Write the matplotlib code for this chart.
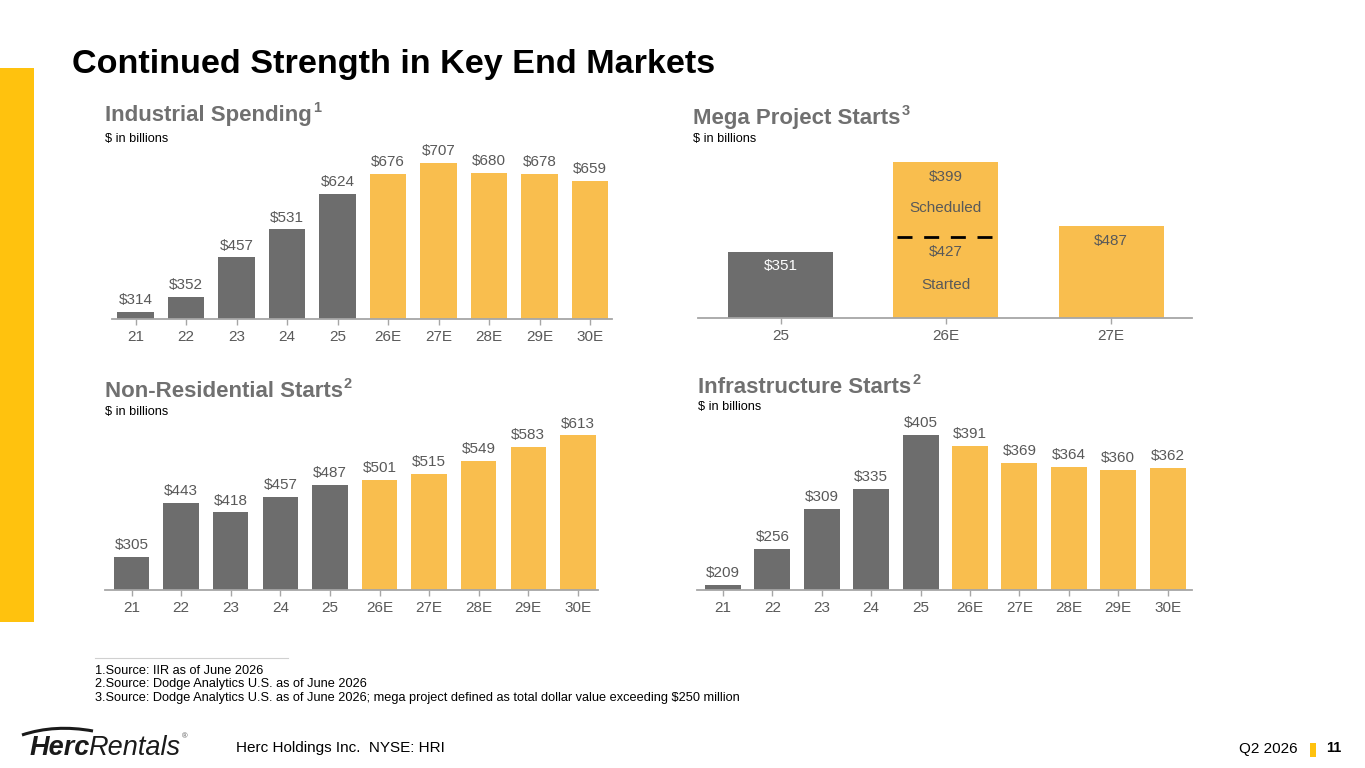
import matplotlib.pyplot as plt
from matplotlib.lines import Line2D
from matplotlib.path import Path
from matplotlib.patches import PathPatch, Rectangle

plt.rcParams['font.family'] = ['Liberation Sans', 'DejaVu Sans']

# 데이터
years = ['21', '22', '23', '24', '25', '26E', '27E', '28E', '29E', '30E']
industrial = [314, 352, 457, 531, 624, 676, 707, 680, 678, 659]
non_res = [305, 443, 418, 457, 487, 501, 515, 549, 583, 613]
infra = [209, 256, 309, 335, 405, 391, 369, 364, 360, 362]
n_actual = 5  # 21~25 는 실적, 나머지는 전망

mega_years = ['25', '26E', '27E']
mega_started = [351, 427, 487]
mega_scheduled = [0, 399, 0]

GRAY = '#6D6D6D'
YELLOW = '#F9BE4E'
TXT = '#595959'
TITLE_GRAY = '#707070'

W, H = 1365, 768
fig = plt.figure(figsize=(W / 100, H / 100), dpi=100)
renderer = fig.canvas.get_renderer()


def px_axes(x0, x1, y_top, y_base):
    return fig.add_axes([x0 / W, 1 - y_base / H, (x1 - x0) / W, (y_base - y_top) / H])


def style_axis(ax, labels):
    for s in ['top', 'right', 'left']:
        ax.spines[s].set_visible(False)
    ax.spines['bottom'].set_color('#A6A6A6')
    ax.spines['bottom'].set_linewidth(1.3)
    ax.set_yticks([])
    ax.set_xticks(range(len(labels)))
    ax.set_xticklabels(labels, fontsize=11, color=TXT)
    ax.tick_params(axis='x', length=4, width=1, color='#A6A6A6', pad=4)
    ax.patch.set_alpha(0)


def value_labels(ax, values):
    for i, v in enumerate(values):
        ax.annotate('$%d' % v, (i, v), xytext=(0, 3.5), textcoords='offset points',
                    ha='center', va='bottom', fontsize=11, color=TXT)


def heading(x, y_base, title, sup, y_sub):
    t = fig.text(x / W, 1 - y_base / H, title, fontsize=16, fontweight='bold',
                 color=TITLE_GRAY, va='baseline')
    bb = t.get_window_extent(renderer)
    fig.text((bb.x1 + 1) / W, 1 - (y_base - 9) / H, sup, fontsize=10.5, fontweight='bold',
             color=TITLE_GRAY, va='baseline')
    fig.text(x / W, 1 - y_sub / H, '$ in billions', fontsize=9.2, color='black', va='center')


bar_cols = [GRAY] * n_actual + [YELLOW] * (len(years) - n_actual)

# Industrial Spending
ax1 = px_axes(112, 612, 150, 319)
ax1.bar(range(10), [v - 295 for v in industrial], bottom=295, width=0.73, color=bar_cols)
ax1.set_xlim((112 - 135.5) / 50.5, (612 - 135.5) / 50.5)
ax1.set_ylim(295, 740)
value_labels(ax1, industrial)
style_axis(ax1, years)
heading(105, 121, 'Industrial Spending', '1', 139)

# Non-Residential Starts
ax2 = px_axes(105, 598, 420, 590)
ax2.bar(range(10), [v - 221.5 for v in non_res], bottom=221.5, width=0.71, color=bar_cols)
ax2.set_xlim((105 - 131.5) / 49.6, (598 - 131.5) / 49.6)
ax2.set_ylim(221.5, 652)
value_labels(ax2, non_res)
style_axis(ax2, years)
heading(105, 397, 'Non-Residential Starts', '2', 412)

# Infrastructure Starts
ax3 = px_axes(697, 1192, 420, 590)
ax3.bar(range(10), [v - 202.5 for v in infra], bottom=202.5, width=0.73, color=bar_cols)
ax3.set_xlim((697 - 723) / 49.4, (1192 - 723) / 49.4)
ax3.set_ylim(202.5, 425)
value_labels(ax3, infra)
style_axis(ax3, years)
heading(698, 393, 'Infrastructure Starts', '2', 407)

# Mega Project Starts
ax4 = px_axes(698, 1192, 150, 318)
xm = range(len(mega_years))
ax4.bar(xm, mega_started, width=0.636, color=[GRAY, YELLOW, YELLOW])
ax4.bar(xm, mega_scheduled, bottom=mega_started, width=0.636, color=YELLOW)
ax4.set_xlim(-0.5, 2.49)
ax4.set_ylim(0, 890)
ax4.plot([1 - 0.294, 1 + 0.282], [mega_started[1]] * 2, color='black', lw=2,
         dashes=(5.4, 4.2))
lab_col = ['white', TXT, TXT]
for i in xm:
    ax4.annotate('$%d' % mega_started[i], (i, mega_started[i]), xytext=(0, -10.5),
                 textcoords='offset points', ha='center', va='center', fontsize=11,
                 color=lab_col[i])
top26 = mega_started[1] + mega_scheduled[1]
ax4.annotate('$%d' % mega_scheduled[1], (1, top26), xytext=(0, -11),
             textcoords='offset points', ha='center', va='center', fontsize=11, color=TXT)
ax4.annotate('Scheduled', (1, top26), xytext=(0, -33), textcoords='offset points',
             ha='center', va='center', fontsize=11, color=TXT)
ax4.annotate('Started', (1, mega_started[1]), xytext=(0, -34), textcoords='offset points',
             ha='center', va='center', fontsize=11, color=TXT)
style_axis(ax4, mega_years)
heading(693, 124, 'Mega Project Starts', '3', 139)

# 제목과 장식
fig.text(72 / W, 1 - 64 / H, 'Continued Strength in Key End Markets', fontsize=24.6,
         fontweight='bold', color='black', va='center')
fig.add_artist(Rectangle((0, 1 - 622 / H), 34 / W, (622 - 68) / H,
                         transform=fig.transFigure, color='#FFC20E', lw=0))

# 각주
fig.add_artist(Line2D([95 / W, 288 / W], [1 - 658 / H] * 2, color='#D0D0D0', lw=0.8))
notes = ['1.Source: IIR as of June 2026',
         '2.Source: Dodge Analytics U.S. as of June 2026',
         '3.Source: Dodge Analytics U.S. as of June 2026; mega project defined as total dollar value exceeding $250 million']
for k, s in enumerate(notes):
    fig.text(95 / W, 1 - (671 + 13.5 * k) / H, s, fontsize=9.2, color='black', va='center')

# 하단 바
fig.text(236 / W, 1 - 748 / H, 'Herc Holdings Inc.  NYSE: HRI', fontsize=11,
         color='black', va='center')
fig.text(1298 / W, 1 - 749 / H, 'Q2 2026', fontsize=11, color='black', va='center', ha='right')
fig.add_artist(Rectangle((1310 / W, 1 - 757 / H), 6 / W, 14 / H,
                         transform=fig.transFigure, color='#FFC20E', lw=0))
fig.text(1326 / W, 1 - 748 / H, '11', fontsize=10.5, fontweight='bold', color='black',
         va='center')

# 로고
t = fig.text(30 / W, 1 - 748 / H, 'Herc', fontsize=19.5, fontweight='bold', style='italic',
             color='#1A1A1A', va='center')
bb = t.get_window_extent(renderer)
t2 = fig.text((bb.x1 - 2) / W, 1 - 748 / H, 'Rentals', fontsize=19.5, style='italic',
              color='#1A1A1A', va='center')
bb2 = t2.get_window_extent(renderer)
fig.text((bb2.x1 + 1) / W, 1 - 737 / H, '®', fontsize=5.5, color='#555555', va='center')
verts = [(22 / W, 1 - 735 / H), (55 / W, 1 - 724 / H), (93 / W, 1 - 731 / H)]
fig.add_artist(PathPatch(Path(verts, [Path.MOVETO, Path.CURVE3, Path.CURVE3]),
                         transform=fig.transFigure, fill=False, lw=2.2, color='#1A1A1A'))

plt.savefig('out.png', dpi=100)
